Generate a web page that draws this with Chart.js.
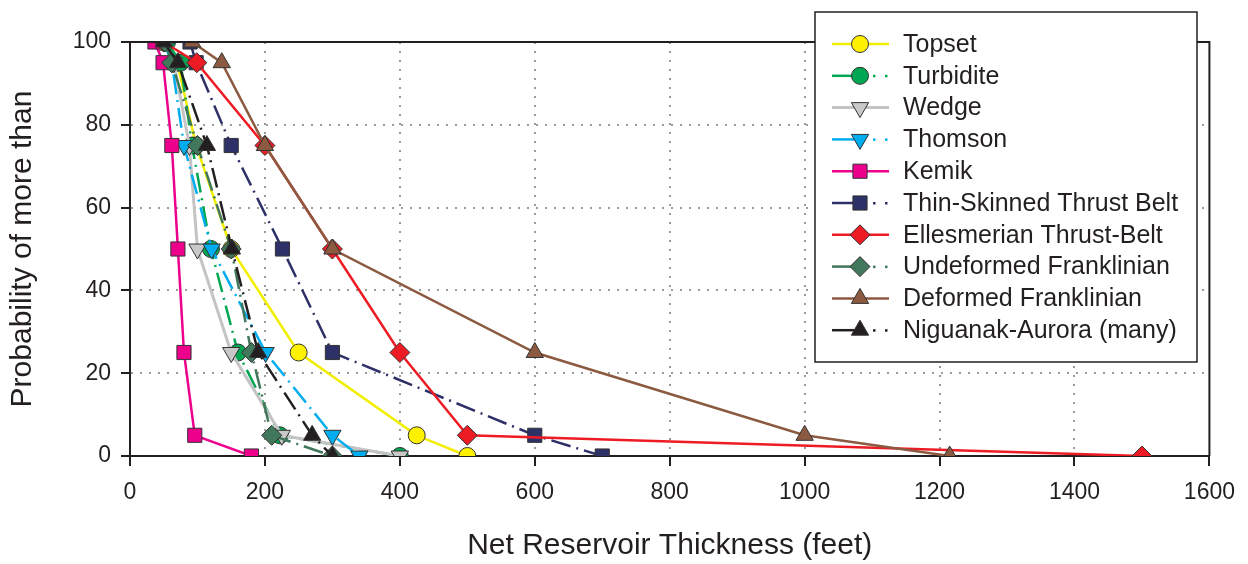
<!DOCTYPE html>
<html>
<head>
<meta charset="utf-8">
<title>Net Reservoir Thickness</title>
<script src="https://cdn.jsdelivr.net/npm/chart.js@4/dist/chart.umd.min.js"></script>
<style>
  html, body { margin: 0; padding: 0; background: #fff; }
  canvas { display: block; }
</style>
</head>
<body>
<canvas id="thickness-chart" width="1248" height="564"></canvas>
<script>
// probability (%) levels shared by every play
const probLevels = [100, 95, 75, 50, 25, 5, 0];

// net reservoir thickness (feet) at each probability level
const topset      = [45, 70, 98, 150, 250, 425, 500];
const turbidite   = [55, 75, 92, 120, 160, 222, 400];
const wedge       = [50, 65, 88, 100, 150, 225, 400];
const thomson     = [50, 62, 80, 121, 201, 300, 340];
const kemik       = [37, 49, 62, 71, 80, 96, 180];
const thinSkinned = [89, 98, 150, 226, 300, 600, 700];
const ellesmerian = [50, 99, 200, 300, 400, 500, 1500];
const undeformed  = [52, 62, 100, 150, 180, 210, 300];
const deformed    = [92, 136, 200, 300, 600, 1000, 1215];
const niguanak    = [50, 71, 114, 151, 190, 270, 300];

const xTicks = [0, 200, 400, 600, 800, 1000, 1200, 1400, 1600];
const yTicks = [0, 20, 40, 60, 80, 100];

const DASH_DOT = [20, 6, 2, 6];

function toPoints(xs) {
    return xs.map((x, i) => ({ x: x, y: probLevels[i] }));
}

let seriesCount = 0;

function makeSeries(label, xs, color, fill, style, opts) {
    opts = opts || {};
    // later series are painted over earlier ones
    const order = -(seriesCount++);
    return {
        label: label,
        data: toPoints(xs),
        order: order,
        borderColor: color,
        backgroundColor: fill,
        borderWidth: opts.width || 2.5,
        borderDash: opts.dashed ? DASH_DOT : [],
        pointStyle: style,
        pointRadius: opts.radius || 8,
        pointRotation: opts.rotation || 0,
        pointBackgroundColor: fill,
        pointBorderColor: '#333333',
        pointBorderWidth: 1,
        tension: 0,
        dashed: !!opts.dashed
    };
}

const datasets = [
    makeSeries('Topset', topset, '#f2ee00', '#fff200', 'circle', { radius: 8.5 }),
    makeSeries('Turbidite', turbidite, '#00a651', '#00a651', 'circle', { radius: 8.5, dashed: true }),
    makeSeries('Wedge', wedge, '#c4c4c4', '#c8c8c8', 'triangle', { radius: 10, rotation: 180, width: 3 }),
    makeSeries('Thomson', thomson, '#00aeef', '#00aeef', 'triangle', { radius: 10, rotation: 180, dashed: true }),
    makeSeries('Kemik', kemik, '#ec008c', '#ec008c', 'rect', { radius: 10 }),
    makeSeries('Thin-Skinned Thrust Belt', thinSkinned, '#2e3068', '#2e3068', 'rect', { radius: 10, dashed: true }),
    makeSeries('Ellesmerian Thrust-Belt', ellesmerian, '#ed1c24', '#ed1c24', 'rectRot', { radius: 10 }),
    makeSeries('Undeformed Franklinian', undeformed, '#41775a', '#41775a', 'rectRot', { radius: 10, dashed: true }),
    makeSeries('Deformed Franklinian', deformed, '#8c5a40', '#8c5a40', 'triangle', { radius: 10 }),
    makeSeries('Niguanak-Aurora (many)', niguanak, '#231f20', '#231f20', 'triangle', { radius: 10, dashed: true })
];

const FONT = '"Liberation Sans", Arial, Helvetica, sans-serif';

// top and right edges of the plot frame
const framePlugin = {
    id: 'frame',
    afterDraw(chart) {
        const { ctx, chartArea } = chart;
        ctx.save();
        ctx.strokeStyle = '#231f20';
        ctx.lineWidth = 2;
        ctx.beginPath();
        ctx.moveTo(chartArea.left, chartArea.top);
        ctx.lineTo(chartArea.right, chartArea.top);
        ctx.lineTo(chartArea.right, chartArea.bottom);
        ctx.stroke();
        ctx.restore();
    }
};

// boxed legend sitting over the top-right of the plot
const boxLegend = {
    id: 'boxLegend',
    afterDraw(chart) {
        const ctx = chart.ctx;
        const left = 815, top = 12, width = 382, height = 350;
        ctx.save();
        ctx.fillStyle = '#ffffff';
        ctx.fillRect(left, top, width, height);
        ctx.strokeStyle = '#231f20';
        ctx.lineWidth = 1.5;
        ctx.strokeRect(left, top, width, height);

        ctx.font = '25px ' + FONT;
        ctx.textBaseline = 'middle';
        ctx.textAlign = 'left';

        chart.data.datasets.forEach((ds, i) => {
            const y = 44 + i * 31.8;
            const x0 = 832, xm = 860, x1 = 889;
            ctx.strokeStyle = ds.borderColor;
            ctx.lineWidth = ds.borderWidth;
            ctx.setLineDash([]);
            ctx.beginPath();
            ctx.moveTo(x0, y);
            ctx.lineTo(ds.dashed ? xm : x1, y);
            ctx.stroke();
            if (ds.dashed) {
                ctx.fillStyle = ds.borderColor;
                ctx.fillRect(x1 - 16, y - 1, 2.5, 2.5);
                ctx.fillRect(x1 - 4, y - 1, 2.5, 2.5);
            }
            ctx.fillStyle = ds.pointBackgroundColor;
            ctx.strokeStyle = ds.pointBorderColor;
            ctx.lineWidth = ds.pointBorderWidth;
            Chart.helpers.drawPoint(ctx, {
                pointStyle: ds.pointStyle,
                radius: ds.pointRadius,
                rotation: ds.pointRotation,
                borderWidth: ds.pointBorderWidth
            }, xm, y);

            ctx.fillStyle = '#231f20';
            ctx.fillText(ds.label, 903, y + 1);
        });
        ctx.restore();
    }
};

function gridColor(ctx, lastValue) {
    const v = ctx.tick ? ctx.tick.value : null;
    if (v === 0 || v === lastValue) return 'rgba(0,0,0,0)';
    return '#9a9a9a';
}

const chart = new Chart(document.getElementById('thickness-chart').getContext('2d'), {
    type: 'line',
    data: { datasets: datasets },
    options: {
        responsive: false,
        animation: false,
        devicePixelRatio: 1,
        layout: { padding: { top: 42, right: 37, left: 0, bottom: 0 } },
        plugins: {
            legend: { display: false },
            tooltip: { enabled: false }
        },
        scales: {
            x: {
                type: 'linear',
                min: 0,
                max: 1600,
                afterFit(scale) { scale.height = 108; },
                afterBuildTicks(scale) { scale.ticks = xTicks.map(v => ({ value: v })); },
                ticks: {
                    color: '#231f20',
                    font: { family: FONT, size: 23 },
                    padding: 13,
                    maxRotation: 0,
                    callback: v => String(v)
                },
                grid: {
                    color: c => gridColor(c, 1600),
                    lineWidth: 2,
                    tickColor: '#231f20',
                    tickLength: 10,
                    tickWidth: 2,
                    tickBorderDash: []
                },
                border: { color: '#231f20', width: 2, dash: [2, 7] },
                title: {
                    display: true,
                    text: 'Net Reservoir Thickness (feet)',
                    color: '#231f20',
                    font: { family: FONT, size: 30 },
                    padding: { top: 0, bottom: 0 }
                }
            },
            y: {
                type: 'linear',
                min: 0,
                max: 100,
                afterFit(scale) { scale.width = 130; },
                afterBuildTicks(scale) { scale.ticks = yTicks.map(v => ({ value: v })); },
                ticks: {
                    color: '#231f20',
                    font: { family: FONT, size: 23 },
                    padding: 10,
                    callback: v => String(v)
                },
                grid: {
                    color: c => gridColor(c, 100),
                    lineWidth: 2,
                    tickColor: '#231f20',
                    tickLength: 9,
                    tickWidth: 2,
                    tickBorderDash: []
                },
                border: { color: '#231f20', width: 2, dash: [2, 7] },
                title: {
                    display: true,
                    text: 'Probability of more than',
                    color: '#231f20',
                    font: { family: FONT, size: 30 },
                    padding: { top: 5, bottom: 0 }
                }
            }
        }
    },
    plugins: [framePlugin, boxLegend]
});
</script>
</body>
</html>
